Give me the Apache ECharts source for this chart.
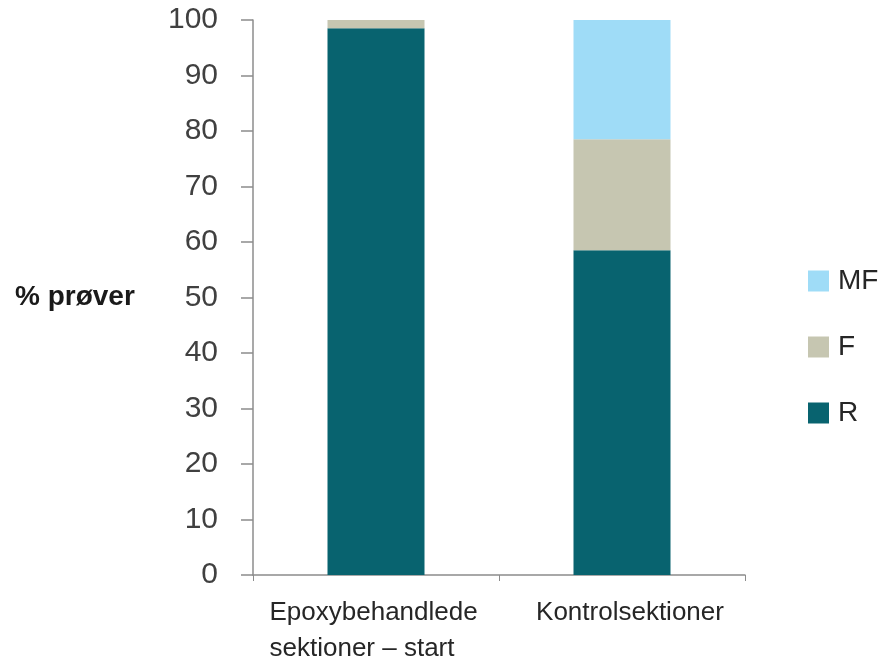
<!DOCTYPE html>
<html>
<head>
<meta charset="utf-8">
<script src="https://cdn.jsdelivr.net/npm/echarts@6/dist/echarts.min.js"></script>
<style>
  html, body { margin: 0; padding: 0; background: #fff; }
  #main { width: 882px; height: 662px; }
</style>
</head>
<body>
<div id="main"></div>
<script>
var myChart = echarts.init(document.getElementById('main'));

var categories = ['Epoxybehandlede\nsektioner – start', 'Kontrolsektioner'];
var valuesR = [98.5, 58.5];
var valuesF = [1.5, 20];
var valuesMF = [0, 21.5];
var yTicks = [0, 10, 20, 30, 40, 50, 60, 70, 80, 90, 100];

var font = '"Liberation Sans", Arial, sans-serif';

option = {
    backgroundColor: '#fff',
    animation: false,
    title: {
        text: '% prøver',
        left: 10,
        top: 278,
        textStyle: {
            fontFamily: font,
            fontSize: 28,
            fontWeight: 'bold',
            color: '#1a1a1a'
        }
    },
    legend: {
        orient: 'vertical',
        left: 803,
        top: 262,
        itemWidth: 21,
        itemHeight: 21,
        itemGap: 38,
        icon: 'rect',
        data: ['MF', 'F', 'R'],
        textStyle: {
            fontFamily: font,
            fontSize: 28,
            color: '#262626',
            padding: [0, 0, 0, 4]
        }
    },
    grid: {
        left: 253,
        right: 137,
        top: 20,
        bottom: 87,
        containLabel: false,
        outerBoundsMode: 'none'
    },
    xAxis: {
        type: 'category',
        data: categories,
        axisLine: { lineStyle: { color: '#8c8c8c', width: 1.5 } },
        axisTick: { show: true, length: 6, lineStyle: { color: '#8c8c8c' } },
        axisLabel: {
            interval: 0,
            hideOverlap: false,
            margin: 20,
            fontFamily: font,
            fontSize: 26,
            color: '#262626',
            lineHeight: 36,
            formatter: function (v) {
                if (v.indexOf('\n') >= 0) {
                    return v.split('\n').map(function (s) { return '{a|' + s + '}'; }).join('\n');
                }
                return '{b|' + v + '}';
            },
            rich: {
                a: { width: 213, align: 'left', fontFamily: font, fontSize: 26, color: '#262626', lineHeight: 36 },
                b: { padding: [0, 0, 0, 16], fontFamily: font, fontSize: 26, color: '#262626', lineHeight: 36 }
            }
        }
    },
    yAxis: {
        type: 'value',
        min: yTicks[0],
        max: yTicks[yTicks.length - 1],
        interval: 10,
        splitLine: { show: false },
        axisLine: { show: true, lineStyle: { color: '#8c8c8c', width: 1.5 } },
        axisTick: { show: true, length: 12, lineStyle: { color: '#8c8c8c', width: 1.5 } },
        axisLabel: {
            margin: 35,
            fontFamily: font,
            fontSize: 30,
            color: '#404040'
        }
    },
    series: [
        {
            name: 'R',
            type: 'bar',
            stack: 'total',
            barWidth: 97,
            data: valuesR,
            itemStyle: { color: '#08636f' }
        },
        {
            name: 'F',
            type: 'bar',
            stack: 'total',
            barWidth: 97,
            data: valuesF,
            itemStyle: { color: '#c6c6b1' }
        },
        {
            name: 'MF',
            type: 'bar',
            stack: 'total',
            barWidth: 97,
            data: valuesMF,
            itemStyle: { color: '#9fdcf7' }
        }
    ]
};

myChart.setOption(option);
</script>
</body>
</html>
